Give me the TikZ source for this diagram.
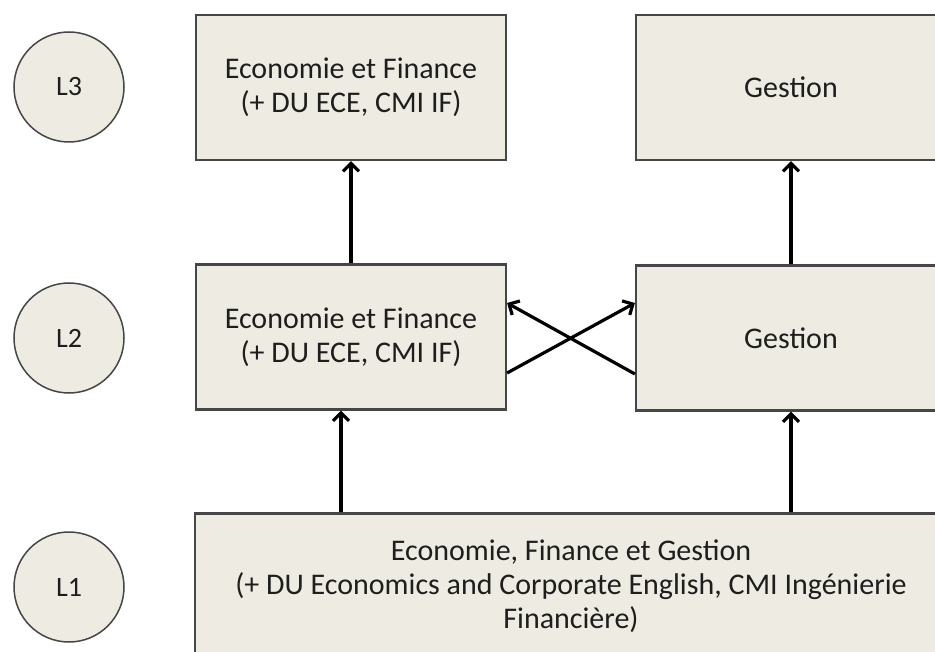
\documentclass[tikz,border=0pt]{standalone}
\usepackage{fontspec}
\setmainfont{Carlito}
\usetikzlibrary{positioning,arrows.meta}
\definecolor{boxfill}{RGB}{238,236,226}
\definecolor{boxline}{RGB}{70,70,70}
\definecolor{txt}{RGB}{30,30,30}

\begin{document}
\begin{tikzpicture}[x=1pt,y=-1pt,
  level/.style={circle,draw=boxline,line width=1.5pt,fill=boxfill,minimum size=110pt,inner sep=0pt,text=txt,font=\fontsize{28}{33}\selectfont},
  cours/.style={rectangle,draw=boxline,line width=2.2pt,fill=boxfill,minimum width=310pt,minimum height=145pt,align=center,text=txt,font=\fontsize{30}{34}\selectfont},
  fleche/.style={-{Straight Barb[length=8pt,width=16pt]},line width=3.2pt}]
	\useasboundingbox (0,0) rectangle (935,652);
	\clip (0,0) rectangle (935,652);

	% niveaux
	\node[level] (n3) at (69,87) {L3};
	\node[level] (n2) at (69,338) {L2};
	\node[level] (n1) at (69,587) {L1};

	% formations
	\node[cours] (l3a) at (351,87.5) {Economie et Finance\\(+ DU ECE, CMI IF)};
	\node[cours] (l3b) at (791,87.5) {Gestion};
	\node[cours] (l2a) at (351,337) {Economie et Finance\\(+ DU ECE, CMI IF)};
	\node[cours] (l2b) at (791,338) {Gestion};
	\node[cours,minimum width=752pt] (l1) at (571,586) {Economie, Finance et Gestion\\(+ DU Economics and Corporate English, CMI Ingénierie\\Financière)};

	\draw[fleche] ([xshift=-10pt]l2a.south |- l1.north) -- ([xshift=-10pt]l2a.south);
	\draw[fleche] (l2b.south |- l1.north) -- (l2b.south);
	\draw[fleche] (l2a.north) -- (l3a.south);
	\draw[fleche] (l2b.north) -- (l3b.south);
	\draw[fleche] ([yshift=-36pt]l2a.east) -- ([yshift=35pt]l2b.west);
	\draw[fleche] ([yshift=-36pt]l2b.west) -- ([yshift=34pt]l2a.east);
\end{tikzpicture}
\end{document}
